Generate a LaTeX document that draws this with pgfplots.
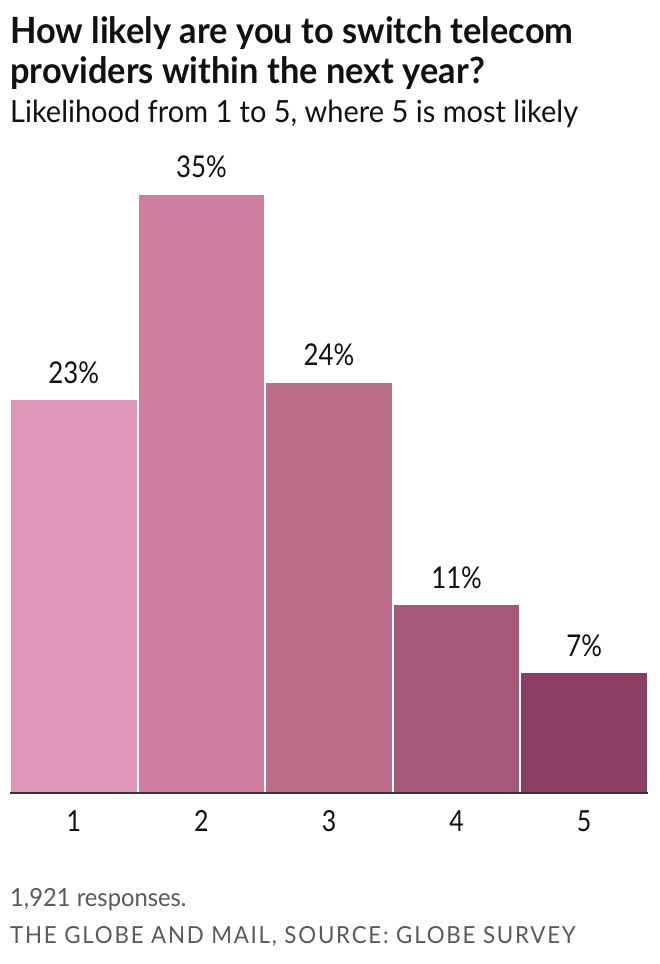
\documentclass[border=0pt]{standalone}
\usepackage{pgfplots}
\pgfplotsset{compat=1.18}
\usepackage{fontspec}
\setmainfont[FakeStretch=0.86]{Lato}
\newfontfamily\wide[FakeStretch=0.95]{Lato}
\definecolor{cA}{HTML}{DE97B7}
\definecolor{cB}{HTML}{D17F9F}
\definecolor{cC}{HTML}{BB6D8A}
\definecolor{cD}{HTML}{A55976}
\definecolor{cE}{HTML}{893E62}
\definecolor{ink}{HTML}{111111}
\definecolor{foot}{HTML}{5A5A5A}
\begin{document}
\begin{tikzpicture}[x=1bp,y=1bp]
\useasboundingbox (0,0) rectangle (660,964);
\fill[white] (0,0) rectangle (660,964);
\node[anchor=base west,inner sep=0pt,text=ink,font=\wide\fontsize{36.2bp}{40bp}\selectfont\bfseries] at (10,920) {How likely are you to switch telecom};
\node[anchor=base west,inner sep=0pt,text=ink,font=\wide\fontsize{36.2bp}{40bp}\selectfont\bfseries] at (10,880) {providers within the next year?};
\node[anchor=base west,inner sep=0pt,text=ink,font=\wide\fontsize{30.5bp}{34bp}\selectfont] at (10,841) {Likelihood from 1 to 5, where 5 is most likely};
\begin{axis}[
  at={(10bp,171bp)}, anchor=south west,
  scale only axis, width=638bp, height=598bp,
  xmin=0.5, xmax=5.5, ymin=0, ymax=35,
  axis x line=bottom, axis y line=none,
  x axis line style={draw=black!80, line width=2bp, -},
  axis on top,
  xtick={1,2,3,4,5}, ytick=\empty,
  major tick length=0pt,
  /pgf/number format/assume math mode=true,
  xticklabel style={anchor=base, yshift=-39bp, inner sep=0pt, text=ink, font=\fontsize{29bp}{32bp}\selectfont},
  clip=false,
  nodes near coords={\pgfmathprintnumber{\pgfplotspointmeta}\%},
  every node near coord/.append style={anchor=base, yshift=17bp, inner sep=0pt, text=ink, font=\fontsize{30bp}{34bp}\selectfont},
]
\addplot[ybar, bar width=0.984, bar shift=0pt, fill=cA, draw=none] coordinates {(1,23)};
\addplot[ybar, bar width=0.984, bar shift=0pt, fill=cB, draw=none] coordinates {(2,35)};
\addplot[ybar, bar width=0.984, bar shift=0pt, fill=cC, draw=none] coordinates {(3,24)};
\addplot[ybar, bar width=0.984, bar shift=0pt, fill=cD, draw=none] coordinates {(4,11)};
\addplot[ybar, bar width=0.984, bar shift=0pt, fill=cE, draw=none] coordinates {(5,7)};
\end{axis}
\node[anchor=base west,inner sep=0pt,text=foot,font=\wide\fontsize{25bp}{28bp}\selectfont] at (10,57) {1,921 responses.};
\node[anchor=base west,inner sep=0pt,text=foot,font=\wide\fontsize{23.5bp}{26bp}\selectfont\addfontfeatures{LetterSpace=7.5}] at (10,20) {THE GLOBE AND MAIL, SOURCE: GLOBE SURVEY};
\end{tikzpicture}
\end{document}
